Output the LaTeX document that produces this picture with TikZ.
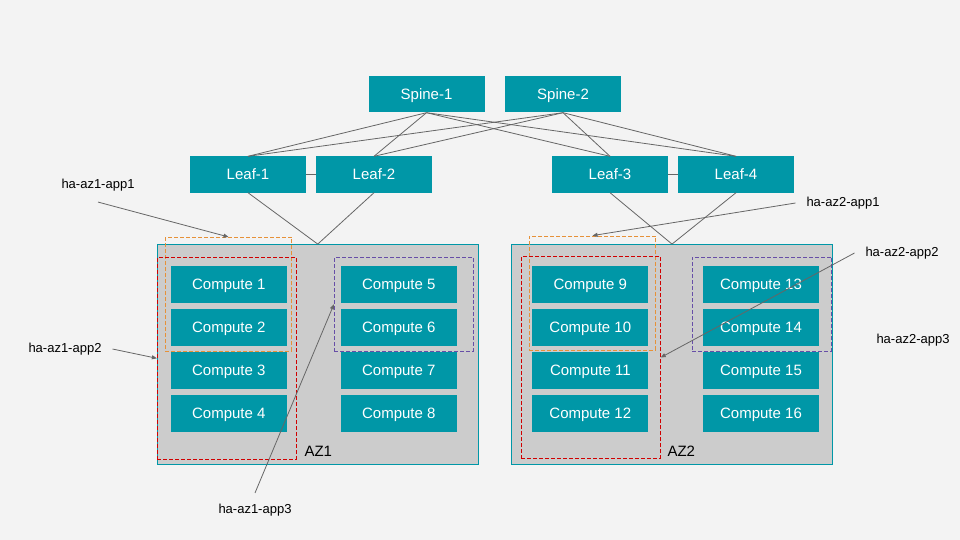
\documentclass[tikz,border=0pt]{standalone}
\usepackage{fontspec}
\setmainfont{Liberation Sans}
\usepackage{tikz}
\usetikzlibrary{arrows.meta}
\usepackage{xcolor}
\definecolor{tealbox}{HTML}{0097A7}
\definecolor{azgray}{HTML}{CCCCCC}
\definecolor{pagebg}{HTML}{F3F3F3}
\definecolor{wire}{HTML}{666666}
\definecolor{grporange}{HTML}{E69138}
\definecolor{grpred}{HTML}{D00000}
\definecolor{grppurple}{HTML}{674EA7}

\begin{document}
\begin{tikzpicture}[
    x=1pt, y=-1pt,
    switch/.style={rectangle, fill=tealbox, text=white, minimum width=116pt, minimum height=36pt, inner sep=0pt, text height=10.5pt, text depth=0pt, font=\fontsize{15}{17}\selectfont},
    compute/.style={rectangle, fill=tealbox, text=white, minimum width=116pt, minimum height=37pt, inner sep=0pt, text height=10.5pt, text depth=0pt, font=\fontsize{15}{17}\selectfont},
    zone/.style={rectangle, fill=azgray, draw=tealbox, line width=0.8pt, inner sep=0pt},
    group/.style={rectangle, draw, line width=0.8pt, dash pattern=on 4pt off 2pt, inner sep=0pt},
    note/.style={font=\fontsize{13}{15}\selectfont, inner sep=1pt, outer sep=10pt},
    link/.style={draw=wire, line width=0.8pt},
    arrow/.style={-{Triangle[length=5pt, width=4pt]}, draw=wire, line width=0.8pt}
]
\useasboundingbox[fill=pagebg] (0,0) rectangle (960,540);

% availability zones
\node[zone, minimum width=320.5pt, minimum height=219.5pt] (az1) at (317.75,354.25) {};
\node[zone, minimum width=321pt, minimum height=219.5pt] (az2) at (672,354.25) {};
\node[anchor=west, font=\fontsize{15}{17}\selectfont] (az1name) at (301,451) {AZ1};
\node[anchor=west, font=\fontsize{15}{17}\selectfont] (az2name) at (664,451) {AZ2};

% fabric
\node[switch] (spine1) at (426.5,94.5) {Spine-1};
\node[switch] (spine2) at (563,94.5) {Spine-2};
\node[switch] (leaf1) at (248,174.5) {Leaf-1};
\node[switch] (leaf2) at (374,174.5) {Leaf-2};
\node[switch] (leaf3) at (610,174.5) {Leaf-3};
\node[switch] (leaf4) at (736,174.5) {Leaf-4};

% compute nodes
\node[compute] (c1) at (228.8,284.3) {Compute 1};
\node[compute] (c2) at (228.8,327.3) {Compute 2};
\node[compute] (c3) at (228.8,370.3) {Compute 3};
\node[compute] (c4) at (228.8,413.3) {Compute 4};
\node[compute] (c5) at (398.8,284.3) {Compute 5};
\node[compute] (c6) at (398.8,327.3) {Compute 6};
\node[compute] (c7) at (398.8,370.3) {Compute 7};
\node[compute] (c8) at (398.8,413.3) {Compute 8};
\node[compute] (c9) at (590.3,284.3) {Compute 9};
\node[compute] (c10) at (590.3,327.3) {Compute 10};
\node[compute] (c11) at (590.3,370.3) {Compute 11};
\node[compute] (c12) at (590.3,413.3) {Compute 12};
\node[compute] (c13) at (761,284.3) {Compute 13};
\node[compute] (c14) at (761,327.3) {Compute 14};
\node[compute] (c15) at (761,370.3) {Compute 15};
\node[compute] (c16) at (761,413.3) {Compute 16};

% app groups
\node[group, draw=grporange, minimum width=126.4pt, minimum height=113.7pt] (app1a) at (228.5,294.2) {};
\node[group, draw=grpred, minimum width=139pt, minimum height=201.3pt] (app2a) at (226.8,358.3) {};
\node[group, draw=grppurple, minimum width=139pt, minimum height=93.3pt] (app3a) at (403.8,304.3) {};
\node[group, draw=grporange, minimum width=126.4pt, minimum height=114pt] (app1b) at (592.5,293) {};
\node[group, draw=grpred, minimum width=139pt, minimum height=201.6pt] (app2b) at (590.8,357.5) {};
\node[group, draw=grppurple, minimum width=139.4pt, minimum height=94pt] (app3b) at (762,304) {};

% annotations
\node[note] (lblaz1app1) at (98,185) {ha-az1-app1};
\node[note] (lblaz1app2) at (65,349) {ha-az1-app2};
\node[note] (lblaz1app3) at (255,510) {ha-az1-app3};
\node[note] (lblaz2app1) at (843,203) {ha-az2-app1};
\node[note] (lblaz2app2) at (902,253) {ha-az2-app2};
\node[note] (lblaz2app3) at (913,340) {ha-az2-app3};

% links
\draw[link] (spine1.south) -- (leaf1.north);
\draw[link] (spine1.south) -- (leaf2.north);
\draw[link] (spine1.south) -- (leaf3.north);
\draw[link] (spine1.south) -- (leaf4.north);
\draw[link] (spine2.south) -- (leaf1.north);
\draw[link] (spine2.south) -- (leaf2.north);
\draw[link] (spine2.south) -- (leaf3.north);
\draw[link] (spine2.south) -- (leaf4.north);
\draw[link] (leaf1) -- (leaf2);
\draw[link] (leaf3) -- (leaf4);
\draw[link] (leaf1.south) -- (az1.north);
\draw[link] (leaf2.south) -- (az1.north);
\draw[link] (leaf3.south) -- (az2.north);
\draw[link] (leaf4.south) -- (az2.north);

\draw[arrow] (lblaz1app1.south) -- (app1a.north);
\draw[arrow] (lblaz1app2.east) -- (app2a.west);
\draw[arrow] (lblaz1app3.north) -- (app3a.west);
\draw[arrow] (lblaz2app1.west) -- (app1b.north);
\draw[arrow] (lblaz2app2.west) -- (app2b.east);
\end{tikzpicture}
\end{document}
